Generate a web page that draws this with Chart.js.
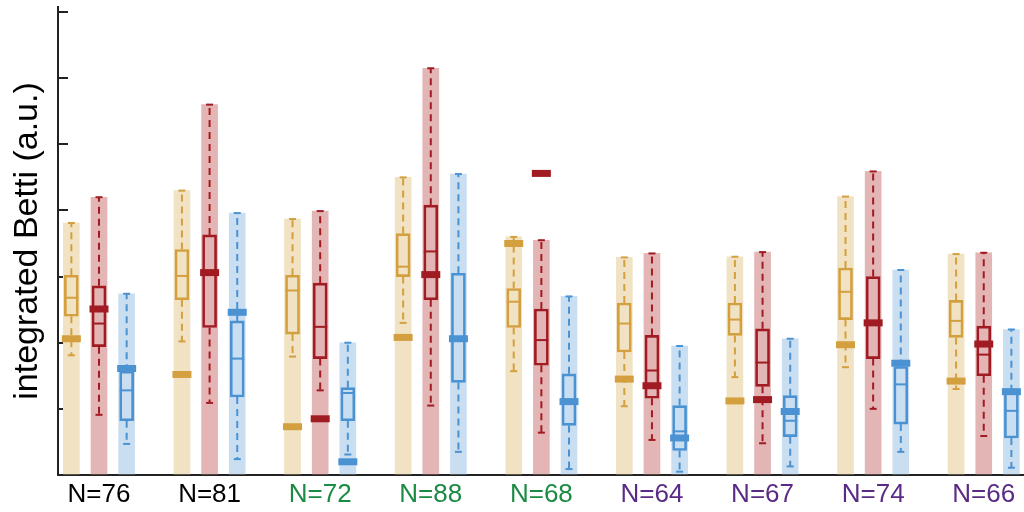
<!DOCTYPE html>
<html>
<head>
<meta charset="utf-8">
<title>Integrated Betti</title>
<script src="https://cdn.jsdelivr.net/npm/chart.js@4.4.1/dist/chart.umd.min.js"></script>
<style>
  html, body { margin: 0; padding: 0; background: #ffffff; }
  #wrap { width: 1024px; height: 512px; }
</style>
</head>
<body>
<div id="wrap"><canvas id="chart" width="1024" height="512"></canvas></div>
<script>
// Group labels along the x axis and their colours
const categories = ['N=76', 'N=81', 'N=72', 'N=88', 'N=68', 'N=64', 'N=67', 'N=74', 'N=66'];
const categoryColors = ['#000000', '#000000', '#1b8a42', '#1b8a42', '#1b8a42',
                        '#5a2a84', '#5a2a84', '#5a2a84', '#5a2a84'];

// Gold series: whisker top, box top, median, box bottom, whisker bottom, observed value
const goldMax    = [3.81, 4.30, 3.87, 4.50, 3.60, 3.29, 3.30, 4.21, 3.34];
const goldQ3     = [3.02, 3.41, 3.02, 3.65, 2.82, 2.60, 2.60, 3.13, 2.64];
const goldMedian = [2.68, 3.01, 2.79, 3.15, 2.62, 2.29, 2.35, 2.77, 2.33];
const goldQ1     = [2.40, 2.65, 2.13, 3.00, 2.23, 1.86, 2.11, 2.35, 2.08];
const goldMin    = [1.81, 2.02, 1.79, 2.30, 1.57, 1.04, 1.48, 1.63, 1.30];
const goldMark   = [2.06, 1.52, 0.73, 2.08, 3.50, 1.45, 1.12, 1.97, 1.42];

// Red series
const redMax    = [4.20, 5.60, 3.99, 6.15, 3.55, 3.35, 3.37, 4.59, 3.36];
const redQ3     = [2.86, 3.63, 2.90, 4.08, 2.51, 2.11, 2.21, 3.00, 2.25];
const redMedian = [2.29, 3.06, 2.24, 3.38, 2.04, 1.58, 1.70, 2.30, 1.82];
const redQ1     = [1.94, 2.23, 1.76, 2.65, 1.66, 1.16, 1.34, 1.76, 1.50];
const redMin    = [0.91, 1.09, 1.28, 1.05, 0.64, 0.53, 0.48, 1.00, 0.59];
const redMark   = [2.51, 3.06, 0.85, 3.03, 4.56, 1.35, 1.14, 2.30, 1.98];

// Blue series
const blueMax    = [2.74, 3.96, 2.00, 4.55, 2.70, 1.95, 2.06, 3.10, 2.20];
const blueQ3     = [1.57, 2.33, 1.32, 3.05, 1.53, 1.05, 1.20, 1.64, 1.26];
const blueMedian = [1.28, 1.76, 1.24, 2.06, 1.11, 0.66, 0.82, 1.37, 0.97];
const blueQ1     = [0.82, 1.18, 0.82, 1.40, 0.75, 0.37, 0.58, 0.77, 0.56];
const blueMin    = [0.47, 0.24, 0.31, 0.35, 0.09, 0.05, 0.13, 0.35, 0.11];
const blueMark   = [1.61, 2.46, 0.20, 2.06, 1.11, 0.56, 0.96, 1.69, 1.26];

const FONT = '"Liberation Sans", Arial, Helvetica, sans-serif';

const series = [
  { light: '#f0e2c2', dark: '#d4a03f', max: goldMax, q3: goldQ3, med: goldMedian, q1: goldQ1, min: goldMin, mark: goldMark },
  { light: '#e3b5b5', dark: '#a11b22', max: redMax,  q3: redQ3,  med: redMedian,  q1: redQ1,  min: redMin,  mark: redMark },
  { light: '#c9def1', dark: '#4b92d3', max: blueMax, q3: blueQ3, med: blueMedian, q1: blueQ1, min: blueMin, mark: blueMark }
];

// side-by-side placement of the three series inside each group
const seriesOffset = [-0.25, 0, 0.25];
const xAt = (i, s) => i + seriesOffset[s];

const datasets = [];
series.forEach((sr, s) => {
  // light range bar from zero up to the whisker top
  datasets.push({
    type: 'bar', stack: 'all', order: 50,
    data: sr.max.map((v, i) => ({ x: xAt(i, s), y: [0, v] })),
    backgroundColor: sr.light, borderWidth: 0, barThickness: 16
  });
  // interquartile box outline
  datasets.push({
    type: 'bar', stack: 'all', order: 40,
    data: sr.q1.map((v, i) => ({ x: xAt(i, s), y: [v, sr.q3[i]] })),
    backgroundColor: 'rgba(0,0,0,0)', borderColor: sr.dark, borderWidth: 2,
    borderSkipped: false, barThickness: 14
  });
  // dashed whiskers
  const whisk = [];
  sr.max.forEach((v, i) => {
    const x = xAt(i, s);
    whisk.push({ x, y: sr.q3[i] }, { x, y: v }, { x, y: null },
               { x, y: sr.q1[i] }, { x, y: sr.min[i] }, { x, y: null });
  });
  datasets.push({
    type: 'line', order: 30, data: whisk, spanGaps: false,
    borderColor: sr.dark, borderWidth: 2, borderDash: [7, 5],
    pointRadius: 0, tension: 0, fill: false
  });
  // whisker caps
  const caps = [];
  sr.max.forEach((v, i) => {
    caps.push({ x: xAt(i, s), y: v }, { x: xAt(i, s), y: sr.min[i] });
  });
  datasets.push({
    type: 'scatter', order: 20, data: caps,
    pointStyle: 'line', pointRadius: 3.5, borderWidth: 2,
    borderColor: sr.dark, pointBorderColor: sr.dark, pointBorderWidth: 2
  });
  // median line
  datasets.push({
    type: 'scatter', order: 10,
    data: sr.med.map((v, i) => ({ x: xAt(i, s), y: v })),
    pointStyle: 'line', pointRadius: 7, borderWidth: 2,
    borderColor: sr.dark, pointBorderColor: sr.dark, pointBorderWidth: 2
  });
  // observed value marker
  datasets.push({
    type: 'scatter', order: 0,
    data: sr.mark.map((v, i) => ({ x: xAt(i, s), y: v })),
    pointStyle: 'line', pointRadius: 9.5, borderWidth: 7,
    borderColor: sr.dark, pointBorderColor: sr.dark, pointBorderWidth: 7
  });
});

new Chart(document.getElementById('chart'), {
  type: 'bar',
  data: { datasets },
  options: {
    responsive: false,
    animation: false,
    events: [],
    layout: { autoPadding: false, padding: { top: 7, left: 0, right: 0, bottom: 0 } },
    plugins: { legend: { display: false }, tooltip: { enabled: false } },
    scales: {
      x: {
        type: 'linear', min: -0.3707, max: 8.364, offset: false,
        afterFit(scale) { scale.height = 37; },
        grid: { display: false, drawTicks: false, offset: false },
        border: { display: true, color: '#222222', width: 2 },
        ticks: {
          stepSize: 1, includeBounds: false, autoSkip: false, maxRotation: 0, padding: 4,
          font: { family: FONT, size: 26 },
          color: (ctx) => categoryColors[Math.round(ctx.tick ? ctx.tick.value : 0)] || '#000000',
          callback: (v) => Number.isInteger(v) ? categories[Math.abs(v)] : ''
        }
      },
      y: {
        type: 'linear', min: 0, max: 7.076, stacked: false,
        afterFit(scale) { scale.width = 58; },
        ticks: { display: false, stepSize: 1, includeBounds: false },
        grid: { drawOnChartArea: false, drawTicks: true, tickLength: -10, lineWidth: 2, color: '#222222' },
        border: { display: true, color: '#222222', width: 2 },
        title: {
          display: true, text: 'integrated Betti (a.u.)', color: '#000000',
          font: { family: FONT, size: 34 }, padding: { top: 7, bottom: 0 }
        }
      }
    }
  }
});
</script>
</body>
</html>
